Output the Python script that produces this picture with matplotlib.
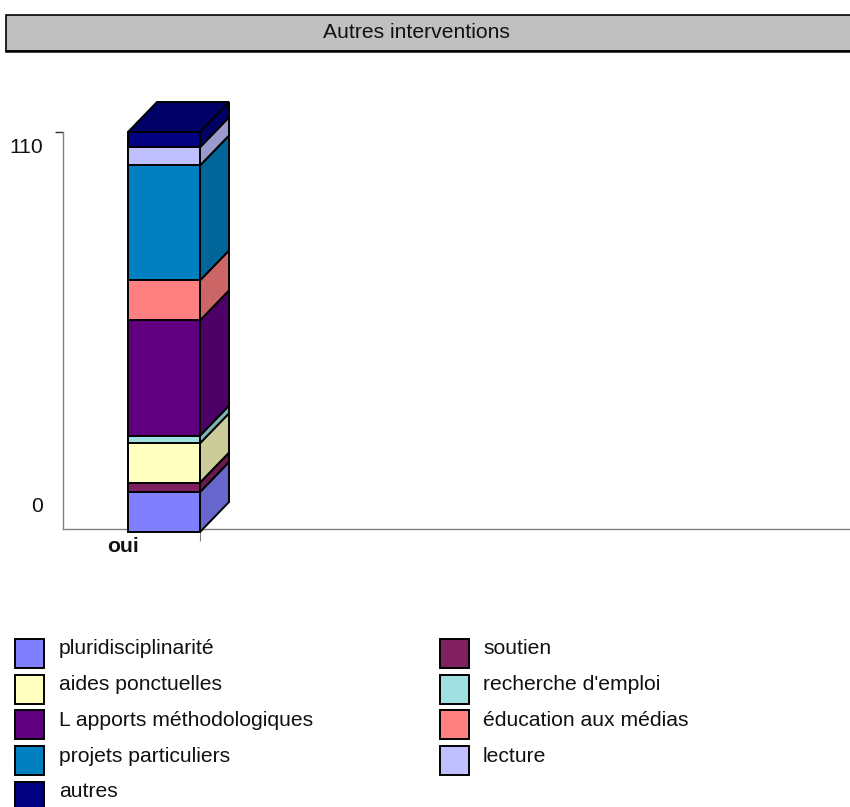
#!/usr/bin/env python3
"""Stacked pseudo-3D column: "Autres interventions"."""
import matplotlib

matplotlib.use("Agg")
import matplotlib.pyplot as plt
from matplotlib.colors import to_rgb
from matplotlib.patches import Polygon, Rectangle

plt.rcParams["font.family"] = ["Liberation Sans", "DejaVu Sans"]

TITLE = "Autres interventions"
CATEGORY = "oui"
Y_TICKS = [0, 110]

# bottom to top of the stack
SERIES = [
    "pluridisciplinarité",
    "soutien",
    "aides ponctuelles",
    "recherche d'emploi",
    "L apports méthodologiques",
    "éducation aux médias",
    "projets particuliers",
    "lecture",
    "autres",
]
VALUES = [11, 2.6, 10.8, 2.1, 31.7, 11, 31.6, 5, 4.2]
COLORS = [
    "#8080FF",
    "#802060",
    "#FFFFC0",
    "#A0E0E0",
    "#600080",
    "#FF8080",
    "#0080C0",
    "#C0C0FF",
    "#000080",
]

W, H = 850, 807
AXIS_GREY = "#808080"
TEXT = "#111111"
FONT_SIZE = 15.2
EDGE = 1.4


def fx(px):
    return px / W


def fy(px):
    return 1 - px / H


def shade(color, factor=0.8):
    return tuple(c * factor for c in to_rgb(color))


fig = plt.figure(figsize=(W / 100, H / 100), dpi=100)

# title banner
fig.add_artist(
    Rectangle((fx(6), fy(51)), fx(850), 36 / H, transform=fig.transFigure,
              facecolor="#C0C0C0", edgecolor="black", linewidth=1.2)
)
fig.add_artist(
    plt.Line2D([fx(6), 1], [fy(51), fy(51)], color="black", linewidth=1.8)
)
fig.text(fx(416), fy(32), TITLE, ha="center", va="center", fontsize=FONT_SIZE, color=TEXT)

# plot area: one category unit is the 72 px bar width, 110 units span 400 px
ax = fig.add_axes([fx(63), fy(529), fx(787), 397 / H])
px_per_unit = 400 / 110
depth_x = 29 / 72
depth_y = 30 / px_per_unit
ax.set_xlim((63 - 164) / 72, (850 - 164) / 72)
ax.set_ylim(3 / px_per_unit, Y_TICKS[1])
ax.patch.set_visible(False)
for side in ("top", "right"):
    ax.spines[side].set_visible(False)
for side in ("left", "bottom"):
    ax.spines[side].set_color(AXIS_GREY)
    ax.spines[side].set_linewidth(1.0)
ax.set_yticks([Y_TICKS[1]], [""])
ax.set_xticks([0.5], [""])
ax.tick_params(axis="y", length=5.5, width=1.0, color="#333333")
ax.tick_params(axis="x", length=8.5, width=0.8, color=AXIS_GREY)

# stacked column, drawn from the values
bottom = 0
for value, color in zip(VALUES, COLORS):
    top = bottom + value
    ax.add_patch(
        Polygon(
            [
                (0.5, bottom),
                (0.5 + depth_x, bottom + depth_y),
                (0.5 + depth_x, top + depth_y),
                (0.5, top),
            ],
            facecolor=shade(color),
            edgecolor="black",
            linewidth=EDGE,
            joinstyle="miter",
            clip_on=False,
            zorder=3,
        )
    )
    ax.bar(0, value, width=1, bottom=bottom, color=color, edgecolor="black",
           linewidth=EDGE, clip_on=False, zorder=4)
    bottom = top

ax.add_patch(
    Polygon(
        [
            (-0.5, bottom),
            (0.5, bottom),
            (0.5 + depth_x, bottom + depth_y),
            (-0.5 + depth_x, bottom + depth_y),
        ],
        facecolor=shade(COLORS[-1]),
        edgecolor="black",
        linewidth=EDGE,
        clip_on=False,
        zorder=4,
    )
)

# labels sit away from their ticks in the original
blend = ax.get_yaxis_transform()
ax.annotate(str(Y_TICKS[1]), xy=(0, Y_TICKS[1]), xycoords=blend, xytext=(-14, -11),
            textcoords="offset points", ha="right", va="center", fontsize=FONT_SIZE,
            color=TEXT, annotation_clip=False)
ax.annotate(str(Y_TICKS[0]), xy=(0, 0), xycoords=blend, xytext=(-14.5, 18),
            textcoords="offset points", ha="right", va="center", fontsize=FONT_SIZE,
            color=TEXT, annotation_clip=False)
ax.annotate(CATEGORY, xy=(0, 0), xycoords="data", xytext=(-29.5, -10.5),
            textcoords="offset points", ha="center", va="center", fontsize=FONT_SIZE,
            fontweight="bold", color=TEXT, annotation_clip=False)

# legend, read row by row in two columns
LEGEND_LEFT = SERIES[0::2]
LEGEND_RIGHT = SERIES[1::2]
row_tops = [639, 674.5, 710, 746, 781.5]
for names, box_x, text_x in ((LEGEND_LEFT, 15, 59), (LEGEND_RIGHT, 440, 483)):
    for name, row_top in zip(names, row_tops):
        color = COLORS[SERIES.index(name)]
        fig.add_artist(
            Rectangle((fx(box_x), fy(row_top + 29)), 29 / W, 29 / H,
                      transform=fig.transFigure, facecolor=color,
                      edgecolor="black", linewidth=EDGE)
        )
        fig.text(fx(text_x), fy(row_top + 15.5), name, ha="left", va="baseline",
                 fontsize=FONT_SIZE, color=TEXT)

fig.savefig("out.png", dpi=100)
